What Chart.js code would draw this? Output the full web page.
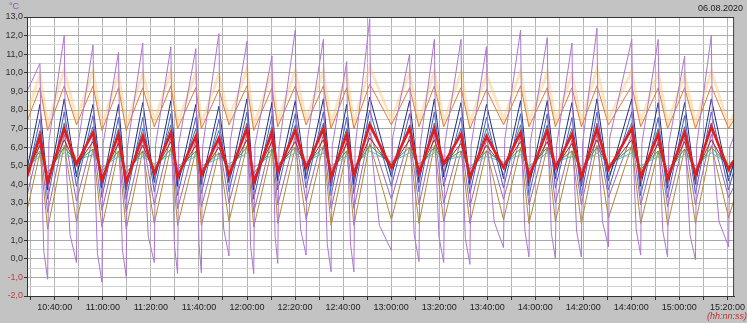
<!DOCTYPE html>
<html>
<head>
<meta charset="utf-8">
<script src="https://cdn.jsdelivr.net/npm/chart.js@4.4.1/dist/chart.umd.min.js"></script>
<style>
html, body { margin: 0; padding: 0; background: #c3c3c3; }
#wrap { position: relative; width: 747px; height: 323px; }
#c { position: absolute; left: 0; top: 0; }
.lbl { position: absolute; font-family: "Liberation Sans", Arial, sans-serif; font-size: 9px; white-space: nowrap; }
</style>
</head>
<body>
<div id="wrap">
  <canvas id="c" width="747" height="323"></canvas>
  <div class="lbl" style="left:9px;top:1px;color:#9050b0">°C</div>
  <div class="lbl" style="right:4px;top:3px;color:#202020">06.08.2020</div>
  <div class="lbl" style="right:0px;top:311px;color:#c03030;font-style:italic">(hh:nn:ss)</div>
</div>
<script>
// times in minutes of the day (10:40 = 640)
const startT = 628.4;
const endT = 922.8;
const peakT = [633.8, 643.9, 655.9, 666.5, 676.6, 688.3, 698.7, 708.3, 720.0, 730.4, 740.1, 751.8, 761.5,
               771.1, 787.7, 798.0, 809.1, 819.7, 833.9, 845.0, 855.3, 865.7, 880.2, 891.2, 902.2, 913.3];
const troughT = [637.0, 649.0, 659.6, 669.7, 681.4, 691.1, 701.0, 712.5, 722.8, 732.8, 744.6, 755.0, 764.5,
                 780.1, 791.6, 801.9, 812.8, 826.8, 837.4, 848.4, 859.2, 870.5, 883.9, 895.1, 906.7, 920.5];

// purple sensor has a sharp drop after the peak and a jump after the trough
const kneeT = [634.4, 644.5, 656.5, 667.1, 677.2, 688.9, 699.3, 708.9, 720.6, 731.0, 740.7, 752.4, 762.1,
               771.7, 788.3, 798.6, 809.7, 820.3, 834.5, 845.6, 855.9, 866.3, 880.8, 891.8, 902.8, 913.9];
const midT = [635.4, 646.3, 657.7, 668.1, 678.9, 689.8, 700.0, 710.3, 721.5, 731.7, 742.3, 753.4, 763.1,
              775.1, 789.6, 799.9, 810.9, 822.9, 835.7, 846.7, 857.2, 868.0, 882.0, 893.1, 904.4, 916.5];
const jumpT = [637.5, 649.5, 660.1, 670.2, 681.9, 691.6, 701.5, 713.0, 723.3, 733.3, 745.1, 755.5, 765.0,
               780.6, 792.1, 802.4, 813.3, 827.3, 837.9, 848.9, 859.7, 871.0, 884.4, 895.6, 907.2, 921.0];

const purplePk = [10.5, 12.0, 11.5, 11.1, 11.6, 11.4, 11.3, 12.1, 11.7, 10.9, 12.3, 11.8, 10.6,
                  12.9, 11.0, 11.8, 11.8, 11.4, 12.3, 11.9, 11.6, 12.4, 11.8, 11.8, 10.9, 12.0];
const purpleKnee = [5.0, 5.5, 5.2, 5.0, 5.6, 5.3, 5.3, 5.8, 5.2, 5.5, 5.8, 5.3, 5.3,
                    6.0, 5.5, 5.5, 5.4, 5.9, 5.6, 5.5, 5.6, 5.9, 5.6, 5.6, 5.5, 5.9];
const purpleMid = [0.4, 1.3, 0.3, 0.5, 1.2, 0.7, 0.8, 1.6, 0.7, 1.2, 1.6, 0.8, 0.8,
                   1.8, 1.3, 1.2, 1.1, 2.0, 1.5, 1.4, 1.5, 2.0, 1.6, 1.5, 1.3, 2.0];
const purpleTr = [-1.1, -0.2, -1.25, -0.95, -0.2, -0.8, -0.75, 0.15, -0.8, -0.25, 0.2, -0.7, -0.7,
                  0.45, -0.15, -0.2, -0.3, 0.6, 0.1, 0.0, 0.1, 0.65, 0.2, 0.1, -0.05, 0.65];
const purpleJump = [6.3, 6.0, 6.2, 6.0, 6.1, 6.2, 6.0, 6.3, 6.1, 6.0, 6.4, 6.1, 6.0,
                    6.5, 6.1, 6.2, 6.1, 6.4, 6.2, 6.1, 6.2, 6.5, 6.2, 6.2, 6.1, 6.0];

const redPk = [6.6, 7.0, 6.8, 6.7, 6.6, 6.8, 6.6, 6.5, 7.0, 6.8, 6.9, 7.0, 6.7,
               7.2, 7.0, 7.0, 6.7, 6.6, 6.8, 6.9, 6.7, 7.0, 7.0, 6.7, 6.8, 7.1];
const redTr = [4.1, 5.1, 4.2, 4.1, 4.6, 4.4, 4.5, 4.5, 4.1, 4.7, 4.9, 4.4, 4.5,
               4.9, 4.6, 5.1, 4.4, 4.9, 4.4, 4.9, 4.4, 4.8, 4.4, 4.3, 4.5, 4.8];
const yellowPk = [9.9, 10.2, 10.1, 9.9, 10.0, 10.1, 10.0, 9.9, 10.2, 10.0, 10.1, 10.1, 9.9,
                  10.3, 10.0, 10.1, 10.0, 9.9, 10.1, 10.0, 9.9, 10.2, 10.1, 10.0, 9.9, 10.1];
const yellowTr = [7.2, 7.5, 7.2, 7.2, 7.4, 7.3, 7.3, 7.5, 7.2, 7.4, 7.5, 7.3, 7.3,
                  7.5, 7.4, 7.4, 7.3, 7.5, 7.4, 7.4, 7.4, 7.5, 7.4, 7.3, 7.3, 7.2];
const orangePk = [9.2, 9.3, 9.3, 9.2, 9.2, 9.3, 9.2, 9.1, 9.3, 9.2, 9.3, 9.3, 9.2,
                  9.4, 9.2, 9.3, 9.2, 9.1, 9.3, 9.2, 9.2, 9.3, 9.3, 9.2, 9.2, 9.3];
const orangeTr = [6.9, 7.2, 6.9, 6.9, 7.1, 7.0, 7.0, 7.2, 6.9, 7.1, 7.2, 7.0, 7.0,
                  7.2, 7.1, 7.1, 7.0, 7.2, 7.1, 7.1, 7.1, 7.2, 7.1, 7.0, 7.0, 7.0];
const navyPk = [8.3, 8.6, 8.3, 8.3, 8.4, 8.5, 8.3, 8.2, 8.6, 8.4, 8.5, 8.6, 8.3,
                8.7, 8.5, 8.6, 8.4, 8.3, 8.5, 8.5, 8.4, 8.6, 8.6, 8.4, 8.4, 8.6];
const navyTr = [3.7, 4.4, 3.8, 3.7, 4.1, 3.9, 4.0, 4.1, 3.7, 4.2, 4.3, 3.9, 4.0,
                4.4, 4.1, 4.4, 4.0, 4.3, 3.9, 4.3, 3.9, 4.2, 3.9, 3.8, 4.0, 4.2];
const bluePk = [7.5, 7.9, 7.7, 7.6, 7.6, 7.8, 7.6, 7.5, 7.9, 7.7, 7.8, 7.9, 7.6,
                8.0, 7.8, 7.9, 7.6, 7.6, 7.8, 7.8, 7.6, 7.9, 7.9, 7.6, 7.7, 7.9];
const blueTr = [3.2, 3.9, 3.3, 3.2, 3.6, 3.4, 3.5, 3.6, 3.2, 3.7, 3.8, 3.4, 3.5,
                3.9, 3.6, 3.9, 3.5, 3.8, 3.4, 3.8, 3.4, 3.7, 3.4, 3.3, 3.5, 3.7];
const steelPk = [6.9, 7.3, 7.1, 7.0, 7.0, 7.2, 7.0, 6.9, 7.3, 7.1, 7.2, 7.3, 7.0,
                 7.4, 7.2, 7.3, 7.0, 7.0, 7.2, 7.2, 7.0, 7.3, 7.3, 7.0, 7.1, 7.3];
const steelTr = [3.8, 4.6, 3.9, 3.8, 4.3, 4.1, 4.2, 4.2, 3.8, 4.4, 4.5, 4.1, 4.2,
                 4.6, 4.3, 4.6, 4.1, 4.5, 4.1, 4.5, 4.1, 4.4, 4.1, 4.0, 4.2, 4.4];
const maroonPk = [6.1, 6.4, 6.3, 6.2, 6.1, 6.3, 6.1, 6.0, 6.4, 6.3, 6.3, 6.4, 6.2,
                  6.5, 6.4, 6.4, 6.2, 6.1, 6.3, 6.3, 6.2, 6.4, 6.4, 6.2, 6.3, 6.4];
const maroonTr = [4.3, 5.0, 4.4, 4.3, 4.7, 4.5, 4.6, 4.6, 4.3, 4.8, 4.9, 4.5, 4.6,
                  4.9, 4.7, 5.0, 4.5, 4.9, 4.5, 4.9, 4.5, 4.8, 4.5, 4.4, 4.6, 4.8];
const greenPk = [5.8, 6.0, 5.9, 5.8, 5.8, 5.9, 5.8, 5.7, 6.0, 5.9, 6.0, 6.0, 5.8,
                 6.1, 6.0, 6.0, 5.8, 5.8, 5.9, 6.0, 5.8, 6.0, 6.0, 5.8, 5.9, 6.0];
const greenTr = [4.6, 5.2, 4.7, 4.6, 4.9, 4.8, 4.8, 4.9, 4.6, 5.0, 5.1, 4.8, 4.8,
                 5.1, 4.9, 5.2, 4.8, 5.1, 4.8, 5.1, 4.8, 5.0, 4.8, 4.7, 4.8, 5.0];
const cyanPk = [5.5, 5.7, 5.6, 5.5, 5.5, 5.6, 5.5, 5.4, 5.7, 5.6, 5.7, 5.7, 5.5,
                5.8, 5.7, 5.7, 5.5, 5.5, 5.6, 5.7, 5.5, 5.7, 5.7, 5.5, 5.6, 5.7];
const cyanTr = [4.9, 5.3, 4.9, 4.9, 5.1, 5.0, 5.0, 5.1, 4.9, 5.1, 5.2, 5.0, 5.0,
                5.2, 5.1, 5.3, 5.0, 5.2, 5.0, 5.2, 5.0, 5.1, 5.0, 4.9, 5.0, 5.1];
const mauvePk = [6.3, 6.7, 6.5, 6.4, 6.4, 6.6, 6.4, 6.3, 6.7, 6.5, 6.6, 6.7, 6.4,
                 6.8, 6.6, 6.7, 6.4, 6.4, 6.6, 6.6, 6.4, 6.7, 6.7, 6.4, 6.5, 6.7];
const mauveTr = [2.5, 3.1, 2.6, 2.5, 2.9, 2.7, 2.8, 3.0, 2.5, 2.9, 3.1, 2.7, 2.7,
                 3.2, 2.9, 3.0, 2.8, 3.2, 2.9, 3.0, 2.9, 3.3, 2.9, 2.8, 2.9, 3.3];
const olivePk = [5.7, 6.1, 5.9, 5.8, 5.8, 6.0, 5.8, 5.7, 6.1, 5.9, 6.0, 6.1, 5.8,
                 6.2, 6.0, 6.1, 5.8, 5.8, 6.0, 6.0, 5.8, 6.1, 6.1, 5.8, 5.9, 6.1];
const oliveTr = [1.6, 2.0, 1.7, 1.6, 1.9, 1.8, 1.8, 2.0, 1.7, 1.9, 2.1, 1.8, 1.8,
                 2.1, 1.9, 2.0, 1.9, 2.1, 1.9, 2.0, 1.9, 2.2, 1.9, 1.8, 1.9, 2.2];

// value at left edge / right edge of the plot
const startVals = { purple: 9.0, red: 4.4, yellow: 7.8, orange: 7.4, navy: 4.8, blue: 4.3, steel: 4.6,
                    maroon: 4.7, green: 4.8, cyan: 5.0, mauve: 3.4, olive: 2.6 };
const endVals = { purple: 6.6, red: 5.3, yellow: 7.8, orange: 7.5, navy: 5.2, blue: 4.8, steel: 5.2,
                  maroon: 5.2, green: 5.3, cyan: 5.3, mauve: 3.9, olive: 3.2 };

const xTickVals = [630, 640, 650, 660, 670, 680, 690, 700, 710, 720, 730, 740, 750, 760, 770,
                   780, 790, 800, 810, 820, 830, 840, 850, 860, 870, 880, 890, 900, 910, 920];
const yTickVals = [-2, -1.5, -1, -0.5, 0, 0.5, 1, 1.5, 2, 2.5, 3, 3.5, 4, 4.5, 5, 5.5, 6, 6.5,
                   7, 7.5, 8, 8.5, 9, 9.5, 10, 10.5, 11, 11.5, 12, 12.5, 13];

function zigzag(name, pk, tr) {
    const pts = [{ x: startT, y: startVals[name] }];
    for (let i = 0; i < peakT.length; i++) {
        pts.push({ x: peakT[i], y: pk[i] });
        pts.push({ x: troughT[i], y: tr[i] });
    }
    pts.push({ x: endT, y: endVals[name] });
    return pts;
}

function purpleLine() {
    const pts = [{ x: startT, y: startVals.purple }];
    for (let i = 0; i < peakT.length; i++) {
        pts.push({ x: peakT[i], y: purplePk[i] });
        pts.push({ x: kneeT[i], y: purpleKnee[i] });
        pts.push({ x: midT[i], y: purpleMid[i] });
        pts.push({ x: troughT[i], y: purpleTr[i] });
        pts.push({ x: jumpT[i], y: purpleJump[i] });
    }
    pts.push({ x: endT, y: endVals.purple });
    return pts;
}

function line(data, color, width) {
    return { data: data, borderColor: color, borderWidth: width, pointRadius: 0, tension: 0, fill: false };
}

function fmtTime(m) {
    const h = Math.floor(m / 60);
    const mm = Math.round(m - h * 60);
    return h + ':' + String(mm).padStart(2, '0') + ':00';
}

const plotFrame = {
    id: 'plotFrame',
    beforeDraw(chart) {
        const { ctx, chartArea: a } = chart;
        ctx.save();
        ctx.fillStyle = '#ffffff';
        ctx.fillRect(a.left, a.top, a.right - a.left, a.bottom - a.top);
        ctx.restore();
    },
    afterDraw(chart) {
        const { ctx, chartArea: a } = chart;
        ctx.save();
        ctx.strokeStyle = '#333333';
        ctx.lineWidth = 1;
        ctx.strokeRect(a.left + 0.5, a.top + 0.5, a.right - a.left - 1, a.bottom - a.top);
        ctx.restore();
    }
};

const datasets = [
    line(zigzag('red', redPk, redTr), '#e41c1c', 2.6),
    line(zigzag('maroon', maroonPk, maroonTr), '#a02a2a', 1),
    line(purpleLine(), '#ad78cf', 1),
    line(zigzag('navy', navyPk, navyTr), '#202c80', 1),
    line(zigzag('blue', bluePk, blueTr), '#3f5fc8', 1),
    line(zigzag('steel', steelPk, steelTr), '#2f7fa8', 1),
    line(zigzag('green', greenPk, greenTr), '#3ca03c', 1),
    line(zigzag('cyan', cyanPk, cyanTr), '#48c4c4', 1),
    line(zigzag('mauve', mauvePk, mauveTr), '#9a6ab0', 1),
    line(zigzag('olive', olivePk, oliveTr), '#b08a3a', 1),
    line(zigzag('orange', orangePk, orangeTr), '#e47a38', 1),
    line(zigzag('yellow', yellowPk, yellowTr), 'rgba(248,200,120,0.45)', 3)
];

new Chart(document.getElementById('c'), {
    type: 'line',
    data: { datasets: datasets },
    plugins: [plotFrame],
    options: {
        responsive: false,
        animation: false,
        layout: { padding: { top: 17, right: 9, left: 0, bottom: 0 } },
        plugins: { legend: { display: false }, tooltip: { enabled: false } },
        scales: {
            x: {
                type: 'linear',
                min: startT,
                max: endT,
                afterBuildTicks: s => { s.ticks = xTickVals.map(v => ({ value: v })); },
                afterFit: s => { s.height = 27; },
                ticks: {
                    autoSkip: false,
                    maxRotation: 0,
                    padding: 2,
                    color: '#202020',
                    font: { family: 'Liberation Sans', size: 9 },
                    callback: v => (v % 20 === 0 ? fmtTime(v) : '')
                },
                grid: { color: '#b4b4b4', lineWidth: 1, tickLength: 4, tickColor: '#333333' },
                border: { color: '#333333' }
            },
            y: {
                min: -2,
                max: 13,
                afterBuildTicks: s => { s.ticks = yTickVals.map(v => ({ value: v })); },
                afterFit: s => { s.width = 27; },
                ticks: {
                    autoSkip: false,
                    padding: 1,
                    font: { family: 'Liberation Sans', size: 9 },
                    color: c => (c.tick.value < 0 ? '#c04040' : '#303030'),
                    callback: v => (Number.isInteger(v) ? v.toFixed(1).replace('.', ',') : '')
                },
                grid: {
                    color: c => (Number.isInteger(c.tick.value) ? '#a8a8a8' : '#d0d0d0'),
                    lineWidth: 1,
                    tickLength: 3,
                    tickColor: c => (Number.isInteger(c.tick.value) ? '#333333' : 'rgba(0,0,0,0)')
                },
                border: { color: '#333333' }
            }
        }
    }
});
</script>
</body>
</html>
